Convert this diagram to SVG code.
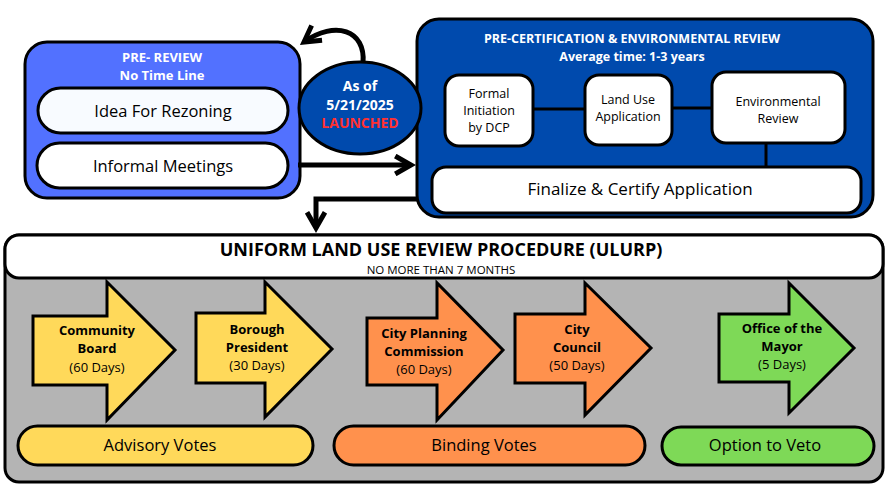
<svg xmlns="http://www.w3.org/2000/svg" width="892" height="500" viewBox="0 0 892 500">
<style>
.s{stroke:#000;stroke-width:3}
.t{font-family:"Open Sans","Liberation Sans",sans-serif;text-anchor:middle;fill:#000}
.w{fill:#fff;font-weight:bold}
.b{font-weight:bold}
</style>
<defs>
<marker id="ah" viewBox="0 0 10 10" refX="8" refY="5" markerWidth="4.5" markerHeight="4.5" orient="auto"><path d="M1,1 L8,5 L1,9" fill="none" stroke="#000" stroke-width="2.2"/></marker>
</defs>
<rect width="892" height="500" fill="#fff"/>
<g id="pre-review">
<rect x="25" y="42" width="275" height="156" rx="22" fill="#5271ff" class="s"/>
<text x="162" y="62" class="t w" font-size="13">PRE- REVIEW</text>
<text x="162" y="80" class="t w" font-size="13">No Time Line</text>
<rect x="38" y="88" width="250" height="45" rx="22.5" fill="#f8fbff" class="s"/>
<text x="163" y="117" class="t" font-size="16.5">Idea For Rezoning</text>
<rect x="37" y="143" width="251" height="45" rx="22.5" fill="#fff" class="s"/>
<text x="163" y="172" class="t" font-size="16.5">Informal Meetings</text>
</g>
<g id="precert">
<rect x="417" y="19" width="456" height="198" rx="22" fill="#004aad" class="s"/>
<text x="632" y="43" class="t w" font-size="12.5">PRE-CERTIFICATION &amp; ENVIRONMENTAL REVIEW</text>
<text x="632" y="61" class="t w" font-size="12.5">Average time: 1-3 years</text>
<line x1="533" y1="109" x2="585" y2="109" class="s"/>
<line x1="672" y1="108" x2="712" y2="108" class="s"/>
<line x1="766" y1="143" x2="766" y2="167" class="s"/>
<rect x="445" y="75" width="88" height="71" rx="14" fill="#fff" class="s"/>
<text class="t" font-size="12.5"><tspan x="489" y="98">Formal</tspan><tspan x="489" y="115">Initiation</tspan><tspan x="489" y="132">by DCP</tspan></text>
<rect x="585" y="75" width="87" height="70" rx="14" fill="#fff" class="s"/>
<text class="t" font-size="12.5"><tspan x="628" y="104">Land Use</tspan><tspan x="628" y="121">Application</tspan></text>
<rect x="712" y="72" width="133" height="71" rx="14" fill="#fff" class="s"/>
<text class="t" font-size="12.5"><tspan x="778" y="106">Environmental</tspan><tspan x="778" y="123">Review</tspan></text>
<rect x="432" y="167" width="429" height="46" rx="14" fill="#fff" class="s"/>
<text x="640" y="195" class="t" font-size="17">Finalize &amp; Certify Application</text>
</g>
<g id="connectors" fill="none" stroke="#000" stroke-width="5">
<path d="M363,63 C366,30 335,20 304,42" marker-end="url(#ah)"/>
<path d="M298,165 L411,165" marker-end="url(#ah)"/>
<path d="M417,199 L316,199 L316,228" marker-end="url(#ah)"/>
</g>
<g id="launched">
<ellipse cx="360" cy="108" rx="61" ry="46" fill="#004aad" class="s"/>
<text x="360" y="91" class="t w" font-size="14">As of</text>
<text x="360" y="110" class="t w" font-size="14">5/21/2025</text>
<text x="360" y="128" class="t b" font-size="14" style="fill:#ff3131">LAUNCHED</text>
</g>
<g id="ulurp">
<rect x="5" y="235" width="878" height="247" rx="14" fill="#b4b4b4" class="s"/>
<rect x="5" y="235" width="878" height="43" rx="14" fill="#fff" class="s"/>
<text x="441" y="256" class="t b" font-size="18">UNIFORM LAND USE REVIEW PROCEDURE (ULURP)</text>
<text x="441" y="274" class="t" font-size="11.5">NO MORE THAN 7 MONTHS</text>
</g>
<g id="community-board">
<path d="M33,316 H107 V282 L175,350 L107,420 V385 H33 Z" fill="#ffd95a" class="s"/>
<text class="t" font-size="13"><tspan x="97" y="335" font-weight="bold">Community</tspan><tspan x="97" y="353" font-weight="bold">Board</tspan><tspan x="97" y="372">(60 Days)</tspan></text>
</g>
<g id="borough-president">
<path d="M196,313 H265 V282 L332,349 L265,417 V383 H196 Z" fill="#ffd95a" class="s"/>
<text class="t" font-size="13"><tspan x="257" y="334" font-weight="bold">Borough</tspan><tspan x="257" y="352" font-weight="bold">President</tspan><tspan x="257" y="370">(30 Days)</tspan></text>
</g>
<g id="cpc">
<path d="M367,318 H437 V283 L503,350 L437,420 V385 H367 Z" fill="#ff914d" class="s"/>
<text class="t" font-size="13"><tspan x="424" y="338" font-weight="bold">City Planning</tspan><tspan x="424" y="356" font-weight="bold">Commission</tspan><tspan x="424" y="374">(60 Days)</tspan></text>
</g>
<g id="city-council">
<path d="M515,314 H585 V283 L651,348 L585,415 V383 H515 Z" fill="#ff914d" class="s"/>
<text class="t" font-size="13"><tspan x="577" y="334" font-weight="bold">City</tspan><tspan x="577" y="352" font-weight="bold">Council</tspan><tspan x="577" y="370">(50 Days)</tspan></text>
</g>
<g id="mayor">
<path d="M719,314 H789 V283 L854,348 L789,413 V382 H719 Z" fill="#7ed957" class="s"/>
<text class="t" font-size="13"><tspan x="782" y="333" font-weight="bold">Office of the</tspan><tspan x="782" y="351" font-weight="bold">Mayor</tspan><tspan x="782" y="369">(5 Days)</tspan></text>
</g>
<g id="advisory">
<rect x="18" y="426" width="295" height="39" rx="19.5" fill="#ffd95a" class="s"/>
<text x="160" y="451" class="t" font-size="16.5">Advisory Votes</text>
</g>
<g id="binding">
<rect x="334" y="426" width="311" height="39" rx="19.5" fill="#ff914d" class="s"/>
<text x="484" y="451" class="t" font-size="16.5">Binding Votes</text>
</g>
<g id="veto">
<rect x="662" y="427" width="212" height="38" rx="19" fill="#7ed957" class="s"/>
<text x="765" y="451" class="t" font-size="16.5">Option to Veto</text>
</g>
</svg>
